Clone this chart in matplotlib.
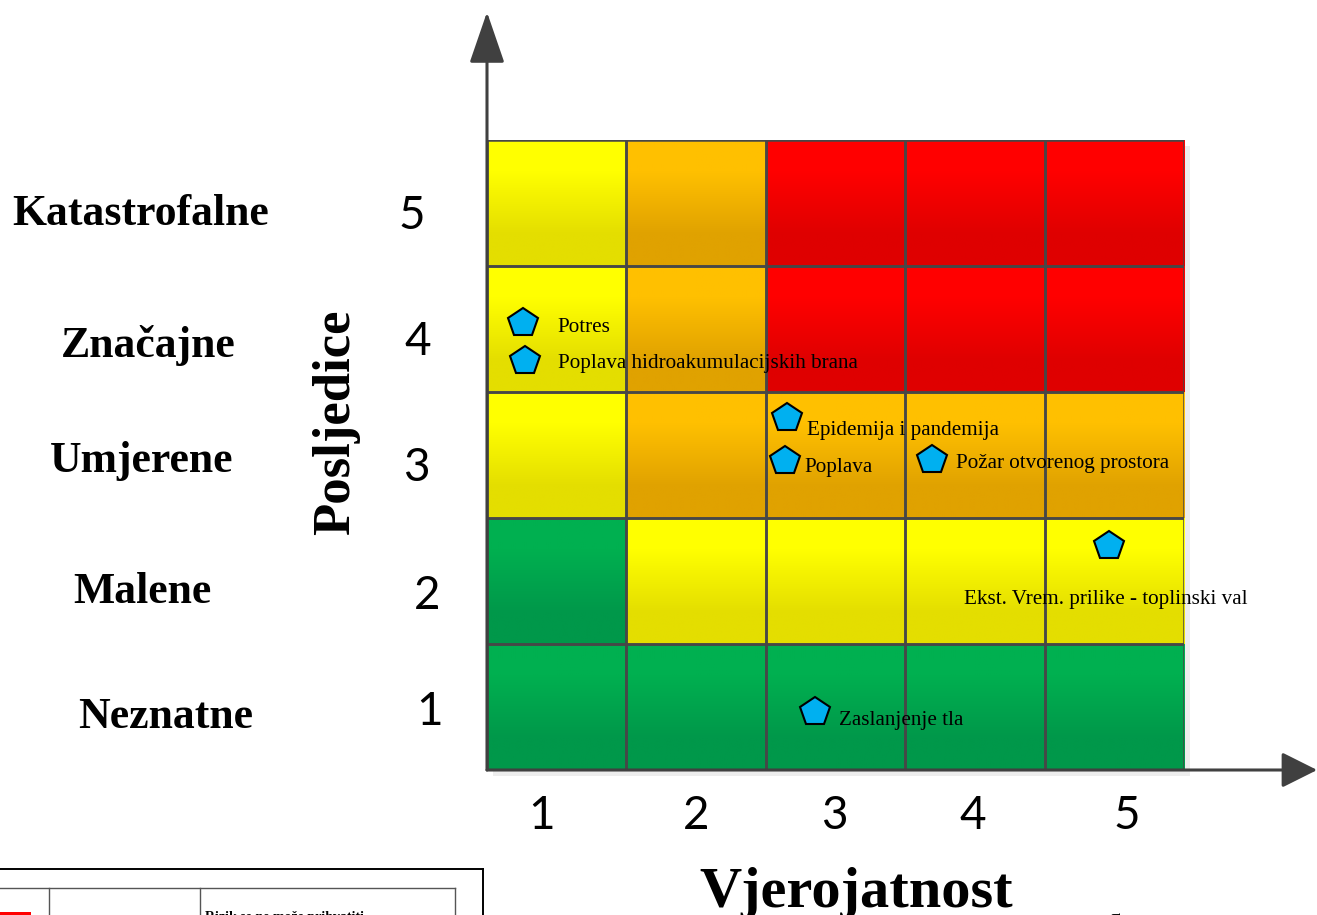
import matplotlib
matplotlib.use("Agg")
import matplotlib.pyplot as plt
import numpy as np
from matplotlib.patches import Rectangle
from matplotlib.colors import to_rgb
import matplotlib.transforms as mtransforms

# ---------------- data ----------------
probability_levels = [1, 2, 3, 4, 5]
consequence_levels = [1, 2, 3, 4, 5]
consequence_names = ["Neznatne", "Malene", "Umjerene", "Značajne", "Katastrofalne"]
x_axis_title = "Vjerojatnost"
y_axis_title = "Posljedice"

# risk class per cell, rows = consequence 1..5, columns = probability 1..5
risk_matrix = [
    ["G", "G", "G", "G", "G"],   # 1
    ["G", "Y", "Y", "Y", "Y"],   # 2
    ["Y", "O", "O", "O", "O"],   # 3
    ["Y", "O", "R", "R", "R"],   # 4
    ["Y", "O", "R", "R", "R"],   # 5
]

risk_names = ["Potres", "Poplava hidroakumulacijskih brana", "Epidemija i pandemija",
              "Poplava", "Požar otvorenog prostora",
              "Ekst. Vrem. prilike - toplinski val", "Zaslanjenje tla"]
risk_probability = [0.76, 0.77, 2.65, 2.64, 3.69, 4.96, 2.85]
risk_consequence = [4.05, 3.75, 3.29, 2.95, 2.96, 2.28, 0.96]

# ---------------- styles ----------------
W, H = 1317, 915
fig = plt.figure(figsize=(W / 100, H / 100), dpi=100)
fig.patch.set_facecolor("white")

grid_l, grid_r, grid_t, grid_b = 487, 1184, 140, 770
ax = fig.add_axes([grid_l / W, 1 - grid_b / H, (grid_r - grid_l) / W, (grid_b - grid_t) / H])
ax.set_xlim(0.5, 5.5)
ax.set_ylim(0.5, 5.5)
ax.axis("off")

def fx(px):
    return px / W

def fy(py):
    return 1 - py / H

gradients = {
    "G": ("#00B050", "#00984A"),
    "Y": ("#FFFF00", "#E4DE00"),
    "O": ("#FFC000", "#E0A200"),
    "R": ("#FF0000", "#DF0000"),
}

# soft shadow
ax.add_patch(Rectangle((0.5 + 0.04, 0.5 - 0.05), 5.0, 5.0, facecolor="#EDEDED",
                       edgecolor="none", zorder=0, clip_on=False))

for ri, cons in enumerate(consequence_levels):
    for ci, prob in enumerate(probability_levels):
        top, bot = gradients[risk_matrix[ri][ci]]
        grad = np.array([[to_rgb(top)], [to_rgb(bot)]])
        ax.imshow(grad, extent=[prob - 0.5, prob + 0.5, cons - 0.5, cons + 0.5],
                  interpolation="bilinear", aspect="auto", zorder=1, origin="upper")
        ax.add_patch(Rectangle((prob - 0.5, cons - 0.5), 1, 1, facecolor="none",
                               edgecolor="#474747", linewidth=1.8, zorder=2))
ax.set_xlim(0.5, 5.5)
ax.set_ylim(0.5, 5.5)

# axes arrows
arrow_col = "#404040"
ax.annotate("", xy=(0, 1.203), xytext=(0, 0), xycoords="axes fraction",
            arrowprops=dict(arrowstyle="-|>,head_length=1.6,head_width=0.55",
                            mutation_scale=20, color=arrow_col, lw=2.2,
                            shrinkA=0, shrinkB=0), annotation_clip=False, zorder=3)
ax.annotate("", xy=(1.191, 0), xytext=(0, 0), xycoords="axes fraction",
            arrowprops=dict(arrowstyle="-|>,head_length=1.1,head_width=0.55",
                            mutation_scale=20, color=arrow_col, lw=2.2,
                            shrinkA=0, shrinkB=0), annotation_clip=False, zorder=3)

# risk markers + labels
label_offsets = [(34, -5), (33, -3), (20, -12), (19, -6), (24, -3), (-3, -54), (24, -8)]
label_ha = ["left", "left", "left", "left", "left", "center", "left"]
for name, p, c, (dx, dy), ha in zip(risk_names, risk_probability, risk_consequence,
                                   label_offsets, label_ha):
    ax.plot(p, c, marker="p", markersize=22, markerfacecolor="#00B0F0",
            markeredgecolor="black", markeredgewidth=1.5, zorder=5, clip_on=False)
    tr = ax.transData + mtransforms.ScaledTranslation(dx / 100, dy / 100, fig.dpi_scale_trans)
    ax.text(p, c, name, transform=tr, ha=ha, va="center", fontsize=15.2,
            family="Liberation Serif", color="black", zorder=6, clip_on=False)

# consequence names (left) and numbers
name_x = [166, 142, 142, 148, 141]
name_dy = [-10, -11, -6, -16, -11]
num_x = [430, 427, 416, 418, 412]
num_dy = [-5, -15, -13, -13, -13]
for lvl, nm, nx, ndy, kx, kdy in zip(consequence_levels, consequence_names, name_x,
                                      name_dy, num_x, num_dy):
    trn = mtransforms.blended_transform_factory(fig.transFigure, ax.transData)
    off = mtransforms.ScaledTranslation(0, ndy / 100, fig.dpi_scale_trans)
    ax.text(fx(nx), lvl, nm, transform=trn + off, ha="center", va="center",
            fontsize=31.5, fontweight="bold", family="Liberation Serif", clip_on=False)
    off2 = mtransforms.ScaledTranslation(0, kdy / 100, fig.dpi_scale_trans)
    ax.text(fx(kx), lvl, str(lvl), transform=trn + off2, ha="center", va="center",
            fontsize=33, family="Lato", clip_on=False)

# probability numbers (bottom)
prob_dx = [-15, 0, -1, -2, 12]
trb = mtransforms.blended_transform_factory(ax.transData, fig.transFigure)
for lvl, dx in zip(probability_levels, prob_dx):
    off = mtransforms.ScaledTranslation(dx / 100, 0, fig.dpi_scale_trans)
    ax.text(lvl, fy(816), str(lvl), transform=trb + off, ha="center", va="center",
            fontsize=33, family="Lato", clip_on=False)

# axis titles
fig.text(fx(856), fy(893), x_axis_title, ha="center", va="center", fontsize=42,
         fontweight="bold", family="Liberation Serif")
fig.text(fx(336), fy(422), y_axis_title, ha="center", va="center", fontsize=38,
         fontweight="bold", family="Liberation Serif", rotation=90)

# fragment of the legend table at bottom-left
line_kw = dict(color="black", transform=fig.transFigure)
fig.add_artist(plt.Line2D([fx(0), fx(483)], [fy(869), fy(869)], lw=1.4, **line_kw))
fig.add_artist(plt.Line2D([fx(483), fx(483)], [fy(869), fy(915)], lw=1.4, **line_kw))
gl = dict(color="#555555", transform=fig.transFigure, lw=1.0)
fig.add_artist(plt.Line2D([fx(0), fx(455)], [fy(888), fy(888)], **gl))
fig.add_artist(plt.Line2D([fx(49), fx(49)], [fy(888), fy(915)], **gl))
fig.add_artist(plt.Line2D([fx(200), fx(200)], [fy(888), fy(915)], **gl))
fig.add_artist(plt.Line2D([fx(455), fx(455)], [fy(888), fy(915)], **gl))
fig.add_artist(Rectangle((fx(0), fy(915)), fx(31), 3 / H, facecolor="red",
                         edgecolor="none", transform=fig.transFigure))
fig.text(fx(205), fy(921), "Rizik se ne može prihvatiti", ha="left", va="baseline",
         fontsize=10, fontweight="bold", family="Liberation Serif")
fig.text(fx(1116), fy(917), "a", ha="center", va="baseline", fontsize=13,
         fontweight="bold", family="Liberation Serif", rotation=90)

fig.savefig("out.png", dpi=100, facecolor="white")
